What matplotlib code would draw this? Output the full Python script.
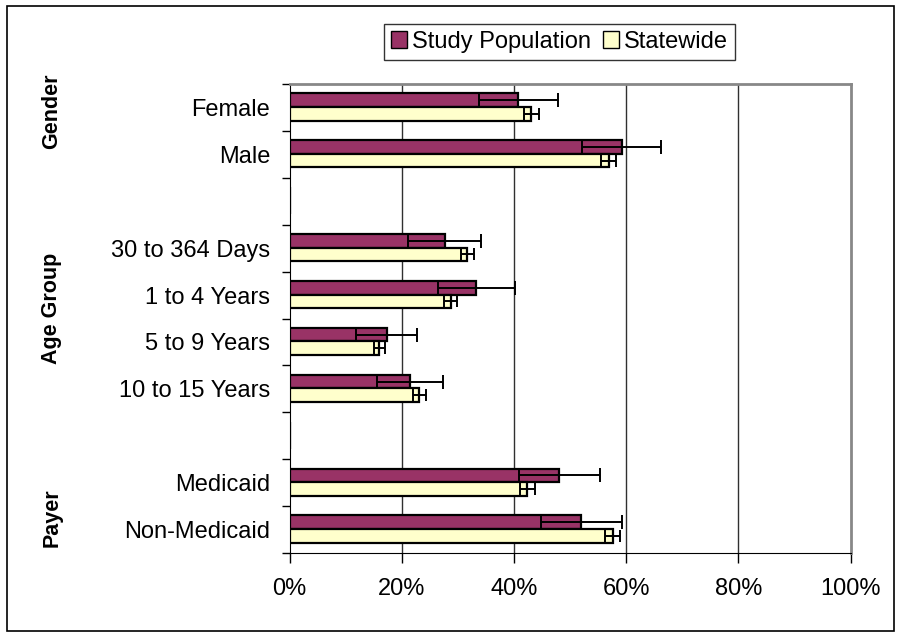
import matplotlib
matplotlib.use("Agg")
import matplotlib.pyplot as plt
from matplotlib.patches import Rectangle, Patch
import numpy as np

plt.rcParams['font.family'] = ['Liberation Sans', 'DejaVu Sans']

# rows top to bottom, blank rows separate the groups
categories = ["Female", "Male", "",
              "30 to 364 Days", "1 to 4 Years", "5 to 9 Years", "10 to 15 Years", "",
              "Medicaid", "Non-Medicaid"]
study = [40.8, 59.2, 0, 27.7, 33.3, 17.3, 21.5, 0, 48.1, 52.0]
study_err = [7.0, 7.0, 0, 6.5, 6.9, 5.5, 5.9, 0, 7.2, 7.2]
statewide = [43.1, 56.9, 0, 31.7, 28.7, 16.0, 23.1, 0, 42.4, 57.6]
statewide_err = [1.3, 1.35, 0, 1.2, 1.15, 1.0, 1.15, 0, 1.3, 1.35]

groups = ["Gender", "Age Group", "Payer"]
group_y = [111, 308, 518]   # pixel centre of each group label

xticks = [0, 20, 40, 60, 80, 100]
xticklabels = ["0%", "20%", "40%", "60%", "80%", "100%"]

W, H = 901, 637
fig = plt.figure(figsize=(W / 100, H / 100), dpi=100)
ax = fig.add_axes([289.5 / W, 1 - 553 / H, 561.2 / W, 469 / H])

rows = np.arange(len(categories))
bh = 0.29
study_col = "#993366"
state_col = "#FFFFCC"

ax.barh(rows + 0.345, study, height=bh, color=study_col, edgecolor="black", linewidth=1.6, zorder=3)
ax.barh(rows + 0.635, statewide, height=bh, color=state_col, edgecolor="black", linewidth=1.6, zorder=3)
ax.errorbar(study, rows + 0.345, xerr=study_err, fmt="none", ecolor="black",
            elinewidth=1.4, capsize=5, capthick=1.4, zorder=4)
ax.errorbar(statewide, rows + 0.635, xerr=statewide_err, fmt="none", ecolor="black",
            elinewidth=1.4, capsize=4.5, capthick=1.4, zorder=4)

ax.set_xlim(0, 100)
ax.set_ylim(len(categories), 0)

for x in xticks[1:-1]:
    ax.axvline(x, color="#303030", linewidth=1, zorder=1)

ax.set_xticks(xticks)
ax.set_xticklabels(xticklabels, fontsize=17)
ax.tick_params(axis="x", direction="out", length=7, width=1, pad=11)

ax.set_yticks(rows + 0.5)
ax.set_yticklabels(categories, fontsize=17)
ax.set_yticks(np.arange(len(categories) + 1), minor=True)
ax.tick_params(axis="y", which="major", length=0, pad=14)
ax.tick_params(axis="y", which="minor", direction="out", length=6, width=1)

ax.spines["left"].set_color("black")
ax.spines["bottom"].set_color("black")
ax.spines["top"].set_color("#888888")
ax.spines["right"].set_color("#888888")
ax.spines["top"].set_linewidth(2)
ax.spines["right"].set_linewidth(2)

for g, gy in zip(groups, group_y):
    fig.text(52 / W, 1 - gy / H, g, rotation=90, fontsize=15.5, fontweight="bold",
             ha="center", va="center")

handles = [Patch(facecolor=study_col, edgecolor="black"),
           Patch(facecolor=state_col, edgecolor="black")]
leg = fig.legend(handles, ["Study Population", "Statewide"], loc="center",
                 bbox_to_anchor=(559.5 / W, 1 - 42 / H), ncol=2, fontsize=17,
                 frameon=True, fancybox=False, edgecolor="black",
                 handlelength=0.7, handleheight=0.7, handletextpad=0.2,
                 columnspacing=0.5, borderpad=0.3)
leg.get_frame().set_linewidth(1)

# outer chart border
fig.patches.append(Rectangle((7 / W, 1 - 631 / H), 887 / W, 625 / H, transform=fig.transFigure,
                             fill=False, edgecolor="black", linewidth=1.2))

fig.savefig("out.png", dpi=100)
